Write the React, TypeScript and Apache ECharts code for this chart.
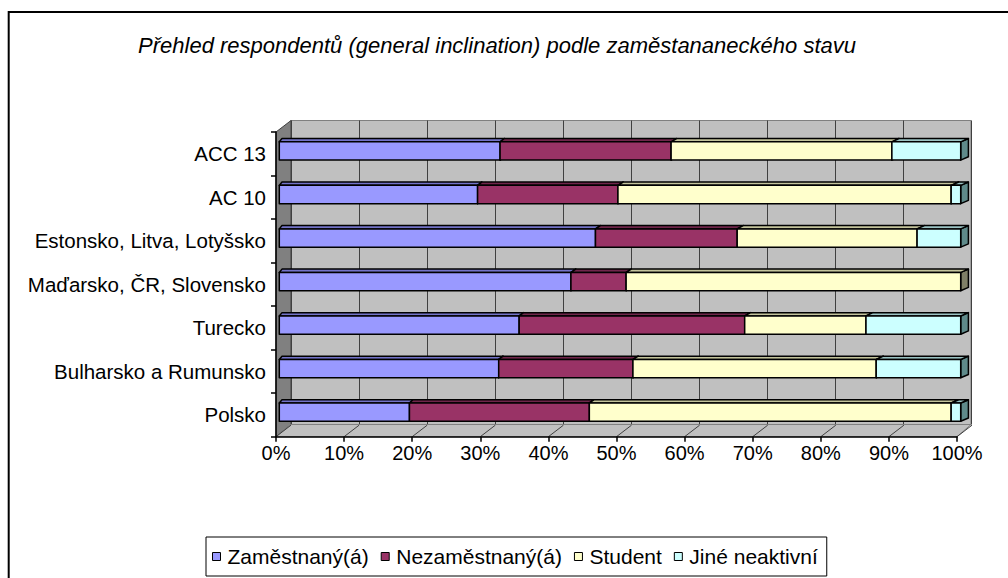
import React, { useEffect, useRef } from "react";
import * as echarts from "echarts";

const TITLE = "Přehled respondentů (general inclination) podle zaměstananeckého stavu";
// bottom-to-top order (as in the Excel category axis)
const CATEGORIES = [
  "Polsko",
  "Bulharsko a Rumunsko",
  "Turecko",
  "Maďarsko, ČR, Slovensko",
  "Estonsko, Litva, Lotyšsko",
  "AC 10",
  "ACC 13",
];
const SERIES_NAMES = ["Zaměstnaný(á)", "Nezaměstnaný(á)", "Student", "Jiné neaktivní"];
const ZAMESTNANY = [19.1, 32.2, 35.2, 42.8, 46.4, 29.1, 32.4];
const NEZAMESTNANY = [26.4, 19.7, 33.1, 8.1, 20.8, 20.6, 25.1];
const STUDENT = [53.1, 35.7, 17.8, 49.1, 26.4, 48.9, 32.4];
const JINE = [1.4, 12.4, 13.9, 0, 6.4, 1.4, 10.1];
const X_TICKS = [0, 10, 20, 30, 40, 50, 60, 70, 80, 90, 100];

const FRONT_COLORS = ["#9999FF", "#993366", "#FFFFCC", "#CCFFFF"];
const TOP_COLORS = ["#7373C8", "#70264B", "#C4C49C", "#9CC4C4"];
const SIDE_COLORS = ["#5C5C99", "#4D1933", "#7F7F66", "#5F8A8A"];

const FONT = "Liberation Sans, Arial, sans-serif";

// layout (pixels)
const FRONT = { left: 276, top: 132, width: 681, height: 304.7 };
const DEPTH = { dx: 15, dy: -11.5 };
const BACK = { left: FRONT.left + DEPTH.dx, top: FRONT.top + DEPTH.dy, width: 680, height: 304 };
const BARS = { left: 279.3, top: 129.2, width: 681.4, height: 304.7 };

export default function App() {
  const ref = useRef<HTMLDivElement>(null);

  useEffect(() => {
    if (!ref.current) return;
    const chart = echarts.init(ref.current, null, { renderer: "svg" });

    const valueSets = [ZAMESTNANY, NEZAMESTNANY, STUDENT, JINE];
    const seriesData = valueSets.map((vals, si) =>
      vals.map((v, ci) => {
        let start = 0;
        for (let k = 0; k < si; k++) start += valueSets[k][ci];
        return [start, start + v, ci];
      })
    );

    const renderItem = (si: number) => (params: any, api: any) => {
      const start = api.value(0);
      const end = api.value(1);
      const cat = api.value(2);
      if (end - start <= 0) return null;
      const p0 = api.coord([start, cat]);
      const p1 = api.coord([end, cat]);
      const h = api.size([0, 1])[1] * 0.42;
      const x0 = p0[0];
      const x1 = p1[0];
      const yT = p0[1] - h / 2;
      const yB = p0[1] + h / 2;
      const dxAt = (x: number) => 2.7 + (5 * (x - BARS.left)) / BARS.width;
      const dy = -3.3;
      const dx0 = dxAt(x0);
      const dx1 = dxAt(x1);
      const stroke = { stroke: "#000", lineWidth: 1.5, lineJoin: "round" };
      return {
        type: "group",
        children: [
          {
            type: "polygon",
            shape: { points: [[x1, yT], [x1 + dx1, yT + dy], [x1 + dx1, yB + dy], [x1, yB]] },
            style: { fill: SIDE_COLORS[si], ...stroke },
          },
          {
            type: "polygon",
            shape: { points: [[x0, yT], [x1, yT], [x1 + dx1, yT + dy], [x0 + dx0, yT + dy]] },
            style: { fill: TOP_COLORS[si], ...stroke },
          },
          {
            type: "rect",
            shape: { x: x0, y: yT, width: x1 - x0, height: h },
            style: { fill: FRONT_COLORS[si], ...stroke },
          },
        ],
      };
    };

    // floor depth lines (decorative 3D walls)
    const floorY = FRONT.top + FRONT.height;
    const floorLines = X_TICKS.map((t) => {
      const xf = FRONT.left + (t / 100) * FRONT.width;
      return {
        type: "line",
        z: 1,
        shape: { x1: xf, y1: floorY, x2: xf + DEPTH.dx, y2: floorY + DEPTH.dy },
        style: { stroke: "#404040", lineWidth: 1 },
      };
    });

    const option: any = {
      animation: false,
      color: FRONT_COLORS,
      textStyle: { fontFamily: FONT },
      title: {
        text: TITLE,
        left: 492,
        top: 29,
        textAlign: "center",
        textStyle: { fontFamily: FONT, fontSize: 22, fontStyle: "italic", fontWeight: "normal", color: "#000" },
      },
      legend: {
        data: SERIES_NAMES,
        left: 206,
        top: 537,
        orient: "horizontal",
        icon: "rect",
        itemWidth: 8,
        itemHeight: 8,
        itemGap: 12,
        padding: [9, 9, 9, 6],
        borderColor: "#000",
        borderWidth: 1,
        backgroundColor: "#fff",
        itemStyle: { borderColor: "#000", borderWidth: 1 },
        textStyle: { fontFamily: FONT, fontSize: 21, color: "#000", padding: [0, 0, 0, 2] },
      },
      grid: [
        { ...FRONT, containLabel: false },
        {
          ...BACK,
          show: true,
          backgroundColor: "#C0C0C0",
          borderColor: "#808080",
          borderWidth: 1,
          z: 0,
        },
        { ...BARS },
      ],
      xAxis: [
        {
          gridIndex: 0,
          type: "value",
          min: 0,
          max: 100,
          interval: 10,
          z: 5,
          axisLine: { show: true, lineStyle: { color: "#000", width: 1.5 } },
          axisTick: { show: true, length: 5, lineStyle: { color: "#000", width: 1.5 } },
          splitLine: { show: false },
          axisLabel: { formatter: "{value}%", fontFamily: FONT, fontSize: 20, color: "#000", margin: 6 },
        },
        {
          gridIndex: 1,
          type: "value",
          min: 0,
          max: 100,
          interval: 10,
          axisLine: { show: false },
          axisTick: { show: false },
          axisLabel: { show: false },
          splitLine: { show: true, lineStyle: { color: "#404040", width: 1 } },
        },
        {
          gridIndex: 2,
          type: "value",
          min: 0,
          max: 100,
          show: false,
        },
      ],
      yAxis: [
        {
          gridIndex: 0,
          type: "category",
          data: CATEGORIES,
          z: 5,
          axisLine: { show: true, lineStyle: { color: "#000", width: 1.5 } },
          axisTick: { show: true, length: 5, lineStyle: { color: "#000", width: 1.5 } },
          axisLabel: { fontFamily: FONT, fontSize: 20.5, color: "#000", margin: 10, padding: [0, 0, 4, 0] },
          splitLine: { show: false },
        },
        {
          gridIndex: 1,
          type: "category",
          data: CATEGORIES,
          show: false,
        },
        {
          gridIndex: 2,
          type: "category",
          data: CATEGORIES,
          show: false,
        },
      ],
      graphic: [
        {
          type: "rect",
          z: 10,
          shape: { x: 8.7, y: 12, width: 1200, height: 800 },
          style: { fill: "none", stroke: "#000", lineWidth: 2 },
        },
        {
          type: "polygon",
          z: 1,
          shape: {
            points: [
              [FRONT.left, FRONT.top],
              [BACK.left, BACK.top],
              [BACK.left, BACK.top + BACK.height],
              [FRONT.left, floorY],
            ],
          },
          style: { fill: "#808080", stroke: "#404040", lineWidth: 1 },
        },
        {
          type: "polygon",
          z: 1,
          shape: {
            points: [
              [FRONT.left, floorY],
              [BACK.left, BACK.top + BACK.height],
              [BACK.left + BACK.width, BACK.top + BACK.height],
              [FRONT.left + FRONT.width, floorY],
            ],
          },
          style: { fill: "#C0C0C0", stroke: "#808080", lineWidth: 1 },
        },
        ...floorLines,
      ],
      series: SERIES_NAMES.map((name, si) => ({
        name,
        type: "custom",
        xAxisIndex: 2,
        yAxisIndex: 2,
        z: 3,
        itemStyle: { color: FRONT_COLORS[si] },
        renderItem: renderItem(si),
        encode: { x: [0, 1], y: 2 },
        data: seriesData[si],
      })),
    };

    chart.setOption(option);
    return () => chart.dispose();
  }, []);

  return (
    <div
      ref={ref}
      style={{ position: "fixed", left: 0, top: 0, width: 1008, height: 578, background: "#fff" }}
    />
  );
}
